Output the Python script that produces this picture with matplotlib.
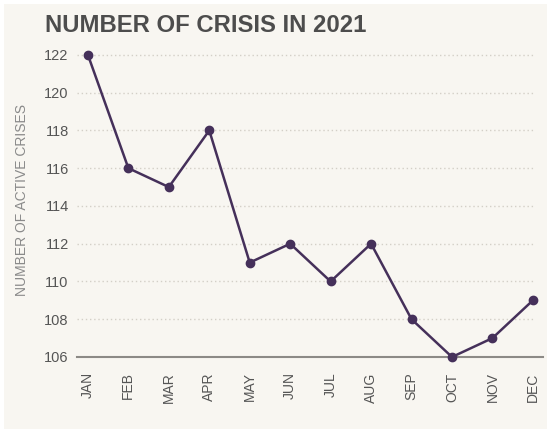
import matplotlib
matplotlib.use("Agg")
import matplotlib.pyplot as plt
from matplotlib.patches import Rectangle

months = ["JAN", "FEB", "MAR", "APR", "MAY", "JUN", "JUL", "AUG", "SEP", "OCT", "NOV", "DEC"]
crises = [122, 116, 115, 118, 111, 112, 110, 112, 108, 106, 107, 109]
yticks = [106, 108, 110, 112, 114, 116, 118, 120, 122]

W, H = 551, 433
fig = plt.figure(figsize=(W / 100, H / 100), dpi=100)
fig.patch.set_facecolor("white")
bg = "#f8f6f1"
fig.patches.append(Rectangle((4 / W, 4 / H), (W - 8) / W, (H - 8) / H,
                             transform=fig.transFigure, facecolor=bg, edgecolor="none", zorder=-10))

ax = fig.add_axes([77 / W, (H - 357) / H, (543 - 77) / W, (357 - 50) / H])
ax.set_facecolor("none")
x = list(range(len(months)))
ax.plot(x, crises, color="#45305a", lw=1.8, marker="o", ms=6, mfc="#45305a", mec="#45305a", zorder=3, clip_on=False)
ax.set_xlim(-0.27, 11.25)
ax.set_ylim(106, 122.26)
ax.set_yticks(yticks)
ax.set_xticks(x)
ax.set_xticklabels(months, rotation=90, fontsize=10, color="#555555", family="Liberation Sans")
ax.set_yticklabels([str(v) for v in yticks], fontsize=10.5, color="#555555", family="Liberation Sans")
ax.tick_params(axis="both", length=0)
ax.tick_params(axis="x", pad=11)
ax.tick_params(axis="y", pad=6)
for v in yticks[1:]:
    ax.axhline(v, xmax=0.98, color="#d3cfc7", lw=1, ls=(0, (1, 2)), zorder=1)
for s in ["top", "right", "left"]:
    ax.spines[s].set_visible(False)
ax.spines["bottom"].set_color("#8c8a86")
ax.spines["bottom"].set_linewidth(1.5)

fig.text(22 / W, 1 - 200 / H, "NUMBER OF ACTIVE CRISES", rotation=90, ha="center", va="center",
         fontsize=10, color="#8a8a8a", family="Liberation Sans")
fig.text(45 / W, 1 - 25 / H, "NUMBER OF CRISIS IN 2021", ha="left", va="center",
         fontsize=17.2, fontweight="bold", color="#4d4d4d", family="Liberation Sans")

fig.savefig("out.png", dpi=100, facecolor=fig.get_facecolor())
